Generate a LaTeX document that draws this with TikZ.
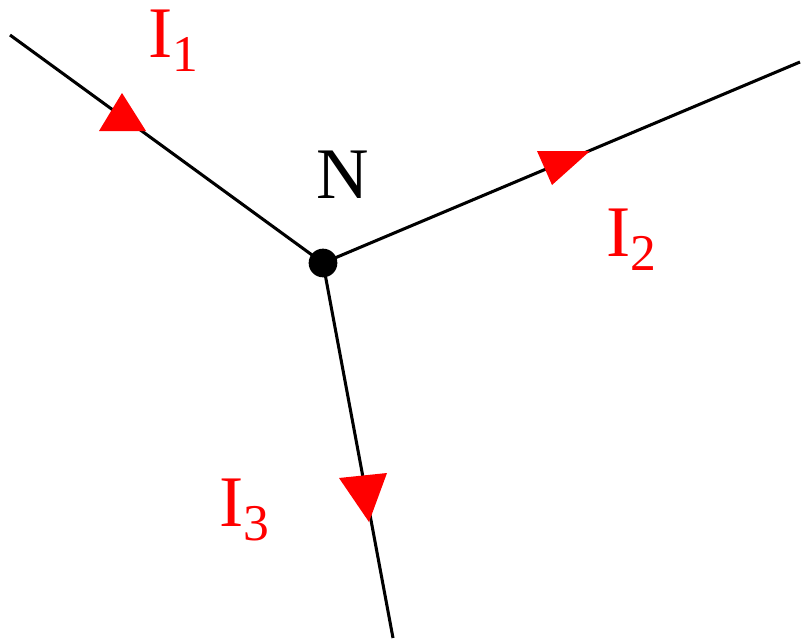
\documentclass[tikz,border=0pt]{standalone}
\usepackage{fontspec}
\setmainfont{Liberation Serif}
\usepackage{xcolor}
\definecolor{cCur}{HTML}{FF0000}
\usetikzlibrary{positioning}
\newcommand{\curlabel}[1]{I\raisebox{-12pt}{\fontsize{44}{44}\selectfont #1}}
\tikzset{
  wire/.style={line width=2.6pt,draw=black},
  junction/.style={circle,fill=black,inner sep=0pt,minimum size=0.86cm},
  cur-label/.style={text=cCur,font=\fontsize{62}{62}\selectfont,inner sep=0pt,anchor=base west},
  node-label/.style={text=black,font=\fontsize{62}{62}\selectfont,inner sep=0pt,anchor=base west},
  cur-tip/.style={fill=cCur},
}

\begin{document}
\begin{tikzpicture}[x=0.03cm,y=-0.03cm]
  \useasboundingbox (0,0) rectangle (801,642);
  % knoten und leitungsenden
  \node[junction] (N) at (323,263) {};
  \coordinate (end1) at (10,35);
  \coordinate (end2) at (800,62);
  \coordinate (end3) at (393,638);
  \draw[wire] (end1) -- (N.center);
  \draw[wire] (N.center) -- (end2);
  \draw[wire] (N.center) -- (end3);
  % stromrichtungen
  \fill[cur-tip] (122,93) -- (146,131) -- (99,131) -- cycle;
  \fill[cur-tip] (537,151) -- (590,151) -- (552,185) -- cycle;
  \fill[cur-tip] (339,478) -- (387,473) -- (369,522) -- cycle;
  % beschriftungen
  \node[node-label] (lblN) at (316,198) {N};
  \node[cur-label] (lblI1) at (148,57) {\curlabel{1}};
  \node[cur-label] (lblI2) at (606,256) {\curlabel{2}};
  \node[cur-label] (lblI3) at (219,526) {\curlabel{3}};
\end{tikzpicture}
\end{document}
